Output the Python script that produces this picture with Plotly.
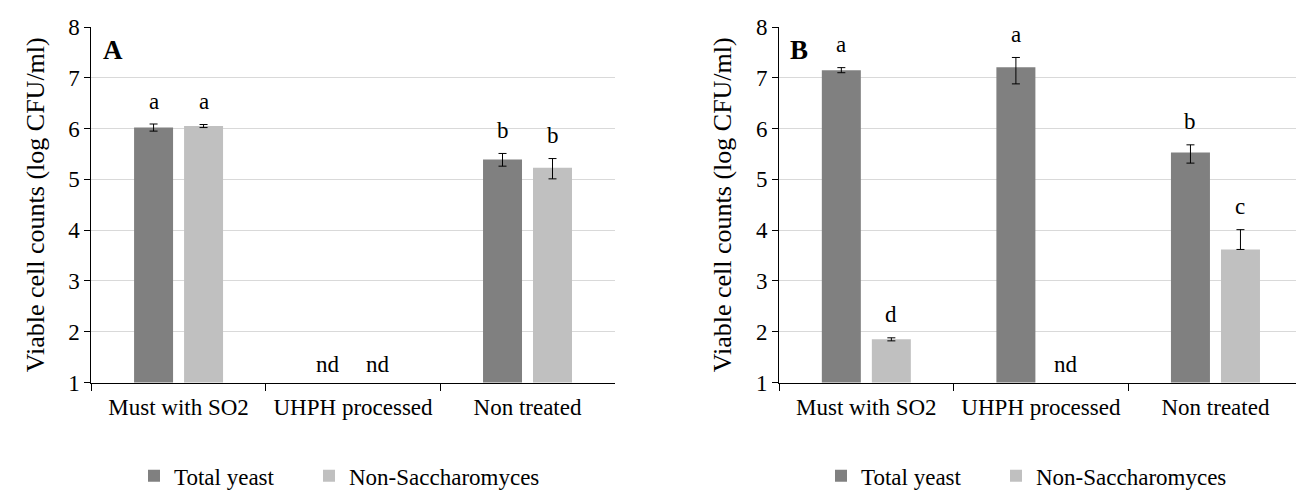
import plotly.graph_objects as go

categories = ["Must with SO2", "UHPH processed", "Non treated"]
series_names = ["Total yeast", "Non-Saccharomyces"]

# Panel A
a_total = [6.02, None, 5.39]
a_total_plus = [0.07, 0, 0.12]
a_total_minus = [0.07, 0, 0.13]
a_nonsac = [6.05, None, 5.23]
a_nonsac_plus = [0.03, 0, 0.18]
a_nonsac_minus = [0.03, 0, 0.22]
a_total_letters = ["a", "nd", "b"]
a_nonsac_letters = ["a", "nd", "b"]

# Panel B
b_total = [7.15, 7.21, 5.53]
b_total_plus = [0.05, 0.19, 0.15]
b_total_minus = [0.05, 0.33, 0.21]
b_nonsac = [1.85, None, 3.62]
b_nonsac_plus = [0.03, 0, 0.39]
b_nonsac_minus = [0.03, 0, 0.0]
b_total_letters = ["a", "a", "b"]
b_nonsac_letters = ["d", "nd", "c"]

y_ticks = [1, 2, 3, 4, 5, 6, 7, 8]

DARK = "#808080"
LIGHT = "#C0C0C0"
FONT = "'Liberation Serif', 'Times New Roman', Times, serif"
BARGAP = 0.427

fig = go.Figure()

xdoms = [[0.0639, 0.4653], [0.5913, 0.9929]]
ydom = [0.2434, 0.9616]

panels = [
    dict(xa="x", ya="y", legs=["legend", "legend2"], total=a_total, tp=a_total_plus, tm=a_total_minus,
         ns=a_nonsac, np_=a_nonsac_plus, nm=a_nonsac_minus,
         tl=a_total_letters, nl=a_nonsac_letters, label="A"),
    dict(xa="x2", ya="y2", legs=["legend3", "legend4"], total=b_total, tp=b_total_plus, tm=b_total_minus,
         ns=b_nonsac, np_=b_nonsac_plus, nm=b_nonsac_minus,
         tl=b_total_letters, nl=b_nonsac_letters, label="B"),
]

annotations = []
for p in panels:
    for name, vals, plus, minus, color, leg in [
        (series_names[0], p["total"], p["tp"], p["tm"], DARK, p["legs"][0]),
        (series_names[1], p["ns"], p["np_"], p["nm"], LIGHT, p["legs"][1]),
    ]:
        fig.add_trace(go.Bar(
            x=categories, y=vals, name=name, marker=dict(color=color, line=dict(width=0)),
            xaxis=p["xa"], yaxis=p["ya"], legend=leg,
            error_y=dict(type="data", symmetric=False, array=plus, arrayminus=minus,
                         color="#000000", thickness=1, width=4),
        ))
    off = (1 - BARGAP) / 4
    for letters, vals, plus, sign in [(p["tl"], p["total"], p["tp"], -1), (p["nl"], p["ns"], p["np_"], 1)]:
        for i, (lt, v, e) in enumerate(zip(letters, vals, plus)):
            if v is None:
                yy = 1.35
            else:
                yy = v + e + 0.45
            annotations.append(dict(
                x=i + sign * off, y=yy, xref=p["xa"], yref=p["ya"], text=lt, showarrow=False,
                font=dict(family=FONT, size=23, color="#000000"), xanchor="center", yanchor="middle"))
    annotations.append(dict(
        x=0.018, y=0.935, xref=p["xa"] + " domain", yref=p["ya"] + " domain", text="<b>%s</b>" % p["label"],
        showarrow=False, font=dict(family=FONT, size=27, color="#000000"), xanchor="left", yanchor="middle"))

axis_common_x = dict(
    type="category", range=[-0.5, 2.5], showgrid=False, showline=True, linecolor="#000000", linewidth=1,
    ticks="outside", tickson="boundaries", ticklen=7, tickcolor="#000000", automargin=False,
    tickfont=dict(family=FONT, size=23, color="#000000"), zeroline=False, ticklabelstandoff=4,
)
axis_common_y = dict(
    range=[1, 8], tickvals=y_ticks, showgrid=True, gridcolor="#D9D9D9", gridwidth=1,
    showline=True, linecolor="#000000", linewidth=1, ticks="outside", ticklen=6, tickcolor="#000000",
    tickfont=dict(family=FONT, size=23, color="#000000"), zeroline=False, automargin=False,
    title=dict(text="Viable cell counts (log CFU/ml)", font=dict(family=FONT, size=26, color="#000000"), standoff=16),
)

leg_common = dict(orientation="h", yanchor="middle", y=0.055, xanchor="left",
                  font=dict(family=FONT, size=23, color="#000000"), itemwidth=30,
                  bgcolor="rgba(0,0,0,0)", borderwidth=0)
# left positions (px) of legend entries in each panel
leg_px = [126, 301, 813, 988]

fig.update_layout(
    width=1304, height=495,
    margin=dict(l=0, r=0, t=0, b=0, autoexpand=False),
    paper_bgcolor="white", plot_bgcolor="white",
    barmode="group", bargap=BARGAP, bargroupgap=0.22,
    xaxis=dict(domain=xdoms[0], anchor="y", **axis_common_x),
    yaxis=dict(domain=ydom, anchor="x", **axis_common_y),
    xaxis2=dict(domain=xdoms[1], anchor="y2", **axis_common_x),
    yaxis2=dict(domain=ydom, anchor="x2", **axis_common_y),
    annotations=annotations,
    legend=dict(x=leg_px[0] / 1304, **leg_common),
    legend2=dict(x=leg_px[1] / 1304, **leg_common),
    legend3=dict(x=leg_px[2] / 1304, **leg_common),
    legend4=dict(x=leg_px[3] / 1304, **leg_common),
    showlegend=True,
)

fig.write_html("out.html")
